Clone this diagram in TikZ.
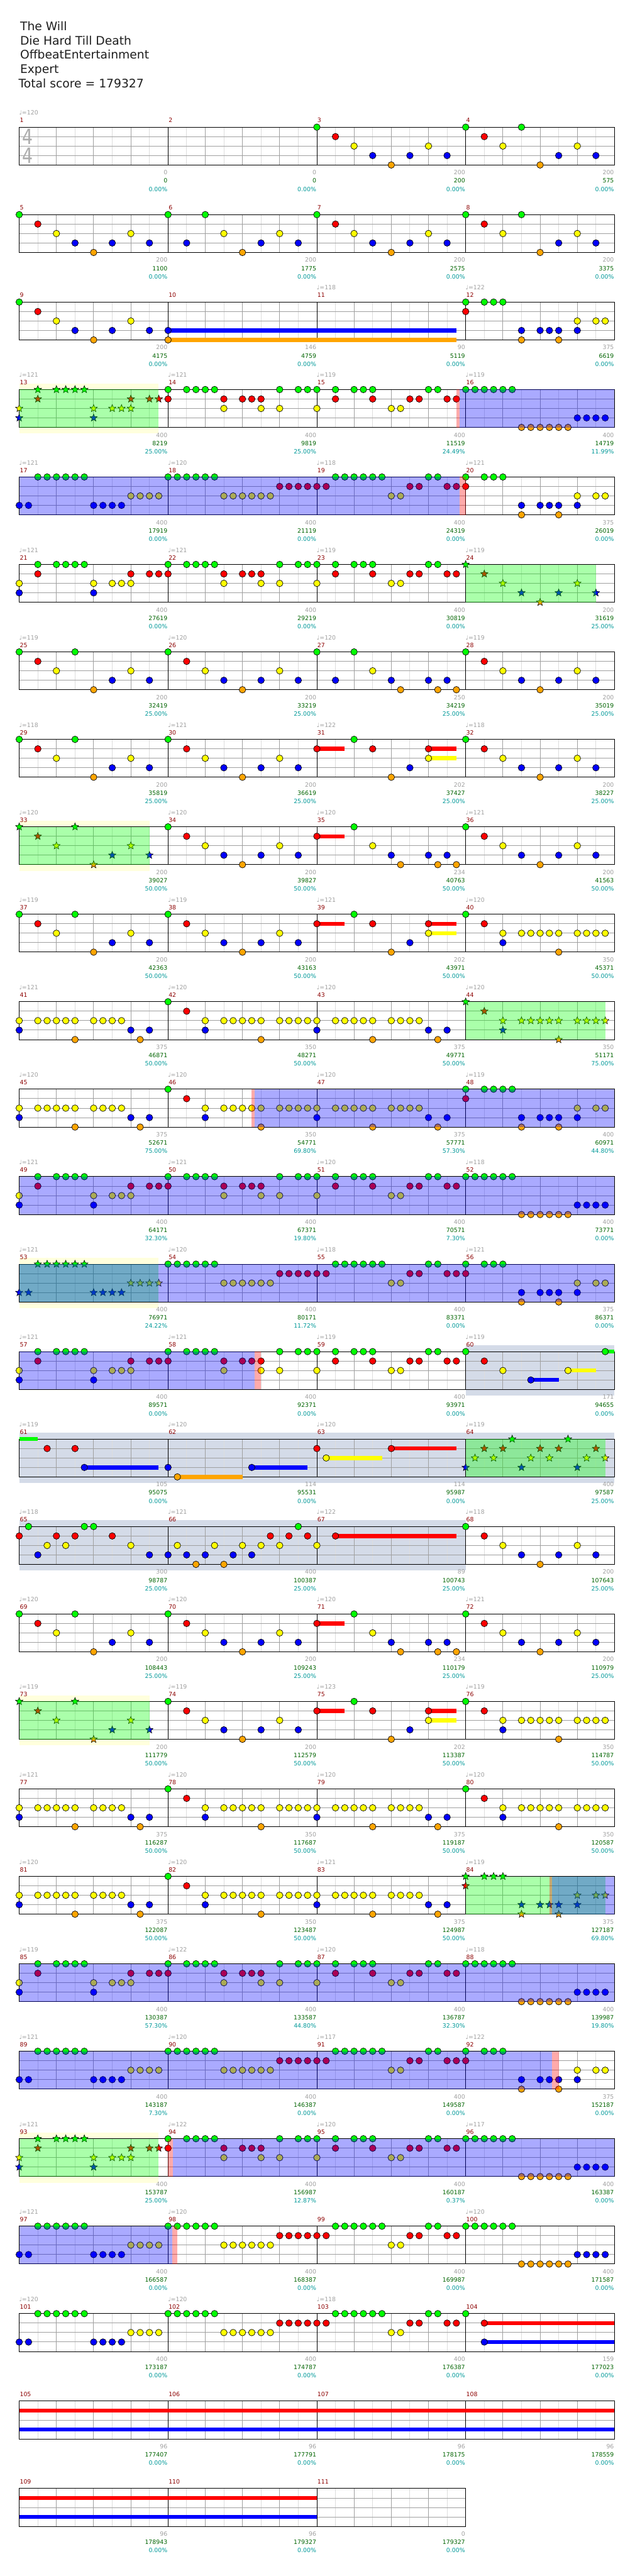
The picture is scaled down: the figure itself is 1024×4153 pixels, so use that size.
\documentclass[tikz,border=0pt]{standalone}
\usepackage{fontspec}
\setmainfont{DejaVu Sans}
\usetikzlibrary{shapes.geometric}
\definecolor{ln0}{RGB}{0,255,0}
\definecolor{ln1}{RGB}{255,0,0}
\definecolor{ln2}{RGB}{255,255,0}
\definecolor{ln3}{RGB}{0,0,255}
\definecolor{ln4}{RGB}{255,165,0}
\definecolor{tgray}{RGB}{160,160,160}
\definecolor{tsgray}{RGB}{172,172,172}
\definecolor{tgreen}{RGB}{0,100,0}
\definecolor{tteal}{RGB}{0,153,153}
\definecolor{mred}{RGB}{140,0,0}
\definecolor{gridlight}{RGB}{221,221,221}
\definecolor{griddark}{RGB}{160,160,160}
\definecolor{spyellow}{RGB}{255,255,221}
\definecolor{solo}{RGB}{212,219,232}

% measure -> row/column origin
\newcommand\setm[1]{%
  \pgfmathtruncatemacro\mcol{mod(#1-1,4)}%
  \pgfmathtruncatemacro\mrow{(#1-1)/4}%
  \pgfmathsetmacro\mx{31+240*\mcol}%
  \pgfmathsetmacro\my{205+141*\mrow}}
\newcommand\staff[1]{\setm{#1}%
  \foreach \k in {30,90,150,210} \draw[gridlight] (\mx+\k,\my) -- ++(0,61);
  \foreach \k in {60,120,180} \draw[griddark] (\mx+\k,\my) -- ++(0,61);
  \foreach \k in {1,2,3} \draw[griddark] (\mx,\my+15.25*\k) -- ++(240,0);
  \draw[black] (\mx,\my) rectangle ++(240,61);}
\newcommand\notes[2]{\setm{#1}\edef\riflist{#2}%
  \foreach \gpos/\glane [count=\i] in \riflist
    {\node[gem,fill=ln\glane] (n#1-\i) at (\mx+15*\gpos,\my+15.25*\glane) {};}}
\newcommand\spnotes[2]{\setm{#1}\edef\riflist{#2}%
  \foreach \gpos/\glane [count=\i] in \riflist
    {\node[spgem,fill=ln\glane] (s#1-\i) at (\mx+15*\gpos,\my+15.25*\glane) {};}}
\newcommand\sus[4]{\setm{#1}%
  \fill[ln#4] (\mx+15*#2,\my+15.25*#4-3.3) rectangle (\mx+15*#3,\my+15.25*#4+3.3);}
\newcommand\hilite[4]{\fill[#4,opacity=0.333] (#2,{205+141*#1}) rectangle (#3,{266+141*#1});}
\newcommand\spband[3]{\fill[spyellow] (#2,{195+141*#1}) rectangle (#3,{205+141*#1});
  \fill[spyellow] (#2,{266+141*#1}) rectangle (#3,{276+141*#1});}
\newcommand\soloband[3]{\fill[solo] (#2,{195+141*#1}) rectangle (#3,{276+141*#1});}

% riffs: position in 16ths / lane
\def\rifA{0/0,2/1,4/2,6/3,8/4,10/3,12/2,14/3}
\def\rifB{0/0,2/1,4/2,6/0,8/4,10/3,12/2,14/3}
\def\rifC{4/0,6/2,8/3,9/4,12/3,13/4,14/3,15/4}
\def\rifD{0/1,4/0,6/1,8/4,10/3,12/1,12/2}
\def\rifE{0/0,0/1,2/0,3/0,4/0,6/3,6/4,8/3,9/3,10/3,10/4,12/2,12/3,14/2,15/2}
\def\rifF{0/2,0/3,2/0,2/1,4/0,5/0,6/0,7/0,8/2,8/3,10/2,11/2,12/1,12/2,14/1,15/1}
\def\rifG{0/0,0/1,2/0,3/0,4/0,5/0,6/1,6/2,8/1,9/1,10/1,10/2,12/0,12/2,14/0,15/0}
\def\rifH{0/0,0/2,2/0,2/1,4/0,5/0,6/0,6/1,8/2,9/2,10/1,11/1,12/0,13/0,14/1,15/1}
\def\rifI{0/0,1/0,2/0,3/0,4/0,5/0,6/4,7/4,8/4,9/4,10/4,11/4,12/3,13/3,14/3,15/3}
\def\rifJ{0/3,1/3,2/0,3/0,4/0,5/0,6/0,7/0,8/3,9/3,10/3,11/3,12/2,13/2,14/2,15/2}
\def\rifK{0/0,1/0,2/0,3/0,4/0,5/0,6/2,7/2,8/2,9/2,10/2,11/2,12/1,13/1,14/1,15/1}
\def\rifL{0/1,1/1,2/0,3/0,4/0,5/0,6/0,7/0,8/2,9/2,10/1,11/1,12/0,13/0,14/1,15/1}
\def\rifM{0/0,2/1,4/2,4/3,6/2,7/2,8/2,9/2,10/2,10/4,12/2,13/2,14/2,15/2}
\def\rifN{0/2,0/3,2/2,3/2,4/2,5/2,6/2,6/4,8/2,9/2,10/2,11/2,12/3,13/4,14/3}

\begin{document}
\begin{tikzpicture}[x=1pt, y=-1pt, line width=1pt,
    gem/.style={circle, draw=black, line width=0.7pt, minimum size=10.6pt, inner sep=0pt},
    spgem/.style={star, star points=5, star point ratio=2.3, draw=black, line width=0.6pt, minimum size=12.5pt, inner sep=0pt},
    hdr/.style={anchor=base west, inner sep=0pt, text=black!88, font=\fontsize{19}{23}\selectfont},
    mnum/.style={anchor=base west, inner sep=0pt, text=mred, font=\fontsize{9.5}{11}\selectfont},
    tempo/.style={anchor=base west, inner sep=0pt, text=tgray, font=\fontsize{9.5}{11}\selectfont},
    mscore/.style={anchor=base east, inner sep=0pt, text=tgray, font=\fontsize{9.5}{11}\selectfont},
    mtotal/.style={anchor=base east, inner sep=0pt, text=tgreen, font=\fontsize{9.5}{11}\selectfont},
    mpct/.style={anchor=base east, inner sep=0pt, text=tteal, font=\fontsize{9.5}{11}\selectfont},
    tsig/.style={inner sep=0pt, text=tsgray, font=\fontsize{34}{34}\selectfont}
  ]
  \useasboundingbox (0,0) rectangle (1024,4153);
  \fill[white] (0,0) rectangle (1024,4153);

  % header
  \node[hdr] (title) at (32,49.3) {The Will};
  \node[hdr] (artist) at (32,72) {Die Hard Till Death};
  \node[hdr] (charter) at (32,95.3) {OffbeatEntertainment};
  \node[hdr] (diff) at (32,118.3) {Expert};
  \node[hdr] (total) at (29.5,141) {Total score = 179327};

  % bands behind the staves
  \spband{3}{31}{256} \spband{8}{31}{241} \spband{13}{31}{256}
  \spband{18}{31}{241} \spband{23}{31}{256}
  \soloband{14}{751}{991} \soloband{15}{31}{991} \soloband{16}{31}{751}

  % staves
  \foreach \m in {1,...,111} {\staff{\m}}
  \node[tsig] (tsTop) at (44.5,220.5) {\scalebox{0.8}[1]{4}};
  \node[tsig] (tsBot) at (44.5,250.5) {\scalebox{0.8}[1]{4}};

  % sustains
  \sus{10}{0}{31}{3} \sus{10}{0}{31}{4}
  \sus{31}{0}{3}{1} \sus{31}{12}{15}{1} \sus{31}{12}{15}{2}
  \sus{35}{0}{3}{1}
  \sus{39}{0}{3}{1} \sus{39}{12}{15}{1} \sus{39}{12}{15}{2}
  \sus{60}{7}{10}{3} \sus{60}{11}{14}{2} \sus{60}{15}{16}{0}
  \sus{61}{0}{2}{0} \sus{61}{7}{15}{3}
  \sus{62}{1}{8}{4} \sus{62}{9}{15}{3}
  \sus{63}{1}{7}{2} \sus{63}{8}{15}{1}
  \sus{67}{2}{15}{1}
  \sus{71}{0}{3}{1}
  \sus{75}{0}{3}{1} \sus{75}{12}{15}{1} \sus{75}{12}{15}{2}
  \sus{104}{2}{16}{1} \sus{104}{2}{16}{3}
  \sus{105}{0}{64}{1} \sus{105}{0}{64}{3}
  \sus{109}{0}{32}{1} \sus{109}{0}{32}{3}

  % notes
  \notes{3}{\rifA} \notes{4}{\rifB}
  \notes{5}{\rifA} \notes{6}{0/0,2/3,4/0,6/2,8/4,10/3,12/2,14/3} \notes{7}{\rifA} \notes{8}{\rifB}
  \notes{9}{\rifA} \notes{10}{0/3,0/4} \notes{12}{\rifE}
  \spnotes{13}{\rifF} \notes{14}{\rifG} \notes{15}{\rifH} \notes{16}{\rifI}
  \notes{17}{\rifJ} \notes{18}{\rifK} \notes{19}{\rifL} \notes{20}{\rifE}
  \notes{21}{\rifF} \notes{22}{\rifG} \notes{23}{\rifH} \spnotes{24}{\rifA}
  \notes{25}{\rifB} \notes{26}{\rifA} \notes{27}{0/0,2/3,\rifC} \notes{28}{\rifA}
  \notes{29}{\rifB} \notes{30}{\rifA} \notes{31}{\rifD} \notes{32}{\rifA}
  \spnotes{33}{\rifB} \notes{34}{\rifA} \notes{35}{0/1,\rifC} \notes{36}{\rifA}
  \notes{37}{\rifB} \notes{38}{\rifA} \notes{39}{\rifD} \notes{40}{\rifM}
  \notes{41}{\rifN} \notes{42}{\rifM} \notes{43}{\rifN} \spnotes{44}{\rifM}
  \notes{45}{\rifN} \notes{46}{\rifM} \notes{47}{\rifN} \notes{48}{\rifE,5/0}
  \notes{49}{\rifF} \notes{50}{\rifG} \notes{51}{\rifH} \notes{52}{\rifI}
  \spnotes{53}{\rifJ} \notes{54}{\rifK} \notes{55}{\rifL} \notes{56}{\rifE}
  \notes{57}{\rifF} \notes{58}{\rifG} \notes{59}{\rifH} \notes{60}{0/0,2/1,4/2,7/3,11/2,15/0}
  \notes{61}{3/1,6/1,7/3} \notes{62}{0/3,1/4,9/3} \notes{63}{0/1,1/2,8/1}
  \spnotes{64}{0/3,1/2,2/1,3/2,4/1,5/0,6/3,7/2,8/1,9/2,10/1,11/0,12/3,13/2,14/1,15/2}
  \notes{65}{0/1,1/0,2/3,3/2,4/1,5/2,6/1,7/0,8/0,10/1,12/2,14/3}
  \notes{66}{0/3,1/2,2/3,3/4,4/3,5/2,6/4,7/3,8/2,9/3,10/2,11/1,12/2,13/1,14/0,15/1}
  \notes{67}{0/2,2/1} \notes{68}{\rifA}
  \notes{69}{\rifB} \notes{70}{\rifA} \notes{71}{0/1,\rifC} \notes{72}{\rifA}
  \spnotes{73}{\rifB} \notes{74}{\rifA} \notes{75}{\rifD} \notes{76}{\rifM}
  \notes{77}{\rifN} \notes{78}{\rifM} \notes{79}{\rifN} \notes{80}{\rifM}
  \notes{81}{\rifN} \notes{82}{\rifM} \notes{83}{\rifN} \spnotes{84}{\rifE}
  \notes{85}{\rifF} \notes{86}{\rifG} \notes{87}{\rifH} \notes{88}{\rifI}
  \notes{89}{\rifJ} \notes{90}{\rifK} \notes{91}{\rifL} \notes{92}{\rifE}
  \spnotes{93}{\rifF} \notes{94}{\rifG} \notes{95}{\rifH} \notes{96}{\rifI}
  \notes{97}{\rifJ} \notes{98}{\rifK} \notes{99}{\rifL} \notes{100}{\rifI}
  \notes{101}{\rifJ} \notes{102}{\rifK} \notes{103}{\rifL} \notes{104}{0/0,2/1,2/3}

  % star power phrases
  \hilite{3}{31}{256}{ln0} \hilite{5}{751}{961}{ln0} \hilite{8}{31}{241}{ln0}
  \hilite{10}{751}{976}{ln0} \hilite{13}{31}{256}{ln0} \hilite{15}{751}{976}{ln0}
  \hilite{18}{31}{241}{ln0} \hilite{20}{751}{976}{ln0} \hilite{23}{31}{256}{ln0}
  % activation edges
  \hilite{3}{736}{741}{ln1} \hilite{4}{741}{751}{ln1} \hilite{11}{406}{411}{ln1}
  \hilite{14}{411}{421}{ln1} \hilite{20}{886}{890}{ln1} \hilite{22}{890}{901}{ln1}
  \hilite{23}{271}{279}{ln1} \hilite{24}{277.5}{285.5}{ln1}
  % star power active
  \hilite{3}{741}{991}{ln3} \hilite{4}{31}{741}{ln3} \hilite{11}{411}{991}{ln3}
  \hilite{12}{31}{991}{ln3} \hilite{13}{31}{991}{ln3} \hilite{14}{31}{411}{ln3}
  \hilite{20}{890}{991}{ln3} \hilite{21}{31}{991}{ln3} \hilite{22}{31}{890}{ln3}
  \hilite{23}{279}{991}{ln3} \hilite{24}{31}{277.5}{ln3}

  % measure numbers and tempos
  \foreach \m in {1,...,111} {\setm{\m}\node[mnum] (mn\m) at (\mx+0.5,\my-7.5) {\m};}
  \foreach \m/\t in {1/120,11/118,12/122,13/121,14/121,15/119,16/119,17/121,18/120,19/118,20/121,
      21/121,22/121,23/119,24/119,25/119,26/120,27/120,28/119,29/118,30/121,31/122,32/118,
      33/120,34/120,35/120,36/121,37/119,38/119,39/121,40/120,41/121,42/120,43/120,44/120,
      45/120,46/120,47/120,48/119,49/121,50/121,51/120,52/118,53/121,54/120,55/118,56/121,
      57/121,58/121,59/119,60/119,61/119,62/120,63/120,64/119,65/118,66/121,67/122,68/118,
      69/120,70/120,71/120,72/121,73/119,74/119,75/123,76/119,77/121,78/120,79/120,80/120,
      81/120,82/120,83/121,84/119,85/119,86/122,87/120,88/118,89/121,90/120,91/117,92/122,
      93/121,94/122,95/120,96/117,97/121,98/120,100/120,101/120,102/120,103/118}
    {\setm{\m}\node[tempo] (tp\m) at (\mx-0.5,\my-19.7) {♩=\t};}

  % scores under each measure
  \foreach \m/\g/\s/\q in {1/0/0/0.00,2/0/0/0.00,3/200/200/0.00,4/200/575/0.00,
      5/200/1100/0.00,6/200/1775/0.00,7/200/2575/0.00,8/200/3375/0.00,
      9/200/4175/0.00,10/146/4759/0.00,11/90/5119/0.00,12/375/6619/0.00,
      13/400/8219/25.00,14/400/9819/25.00,15/400/11519/24.49,16/400/14719/11.99,
      17/400/17919/0.00,18/400/21119/0.00,19/400/24319/0.00,20/375/26019/0.00,
      21/400/27619/0.00,22/400/29219/0.00,23/400/30819/0.00,24/200/31619/25.00,
      25/200/32419/25.00,26/200/33219/25.00,27/250/34219/25.00,28/200/35019/25.00,
      29/200/35819/25.00,30/200/36619/25.00,31/202/37427/25.00,32/200/38227/25.00,
      33/200/39027/50.00,34/200/39827/50.00,35/234/40763/50.00,36/200/41563/50.00,
      37/200/42363/50.00,38/200/43163/50.00,39/202/43971/50.00,40/350/45371/50.00,
      41/375/46871/50.00,42/350/48271/50.00,43/375/49771/50.00,44/350/51171/75.00,
      45/375/52671/75.00,46/350/54771/69.80,47/375/57771/57.30,48/400/60971/44.80,
      49/400/64171/32.30,50/400/67371/19.80,51/400/70571/7.30,52/400/73771/0.00,
      53/400/76971/24.22,54/400/80171/11.72,55/400/83371/0.00,56/375/86371/0.00,
      57/400/89571/0.00,58/400/92371/0.00,59/400/93971/0.00,60/171/94655/0.00,
      61/105/95075/0.00,62/114/95531/0.00,63/114/95987/0.00,64/400/97587/25.00,
      65/300/98787/25.00,66/400/100387/25.00,67/89/100743/25.00,68/200/107643/25.00,
      69/200/108443/25.00,70/200/109243/25.00,71/234/110179/25.00,72/200/110979/25.00,
      73/200/111779/50.00,74/200/112579/50.00,75/202/113387/50.00,76/350/114787/50.00,
      77/375/116287/50.00,78/350/117687/50.00,79/375/119187/50.00,80/350/120587/50.00,
      81/375/122087/50.00,82/350/123487/50.00,83/375/124987/50.00,84/375/127187/69.80,
      85/400/130387/57.30,86/400/133587/44.80,87/400/136787/32.30,88/400/139987/19.80,
      89/400/143187/7.30,90/400/146387/0.00,91/400/149587/0.00,92/375/152187/0.00,
      93/400/153787/25.00,94/400/156987/12.87,95/400/160187/0.37,96/400/163387/0.00,
      97/400/166587/0.00,98/400/168387/0.00,99/400/169987/0.00,100/400/171587/0.00,
      101/400/173187/0.00,102/400/174787/0.00,103/400/176387/0.00,104/159/177023/0.00,
      105/96/177407/0.00,106/96/177791/0.00,107/96/178175/0.00,108/96/178559/0.00,
      109/96/178943/0.00,110/96/179327/0.00,111/0/179327/0.00}
    {\setm{\m}
     \node[mscore] (sg\m) at (\mx+239.5,\my+76.7) {\g};
     \node[mtotal] (st\m) at (\mx+239.5,\my+90) {\s};
     \node[mpct] (sp\m) at (\mx+239.5,\my+103.3) {\q\%};}
\end{tikzpicture}
\end{document}
